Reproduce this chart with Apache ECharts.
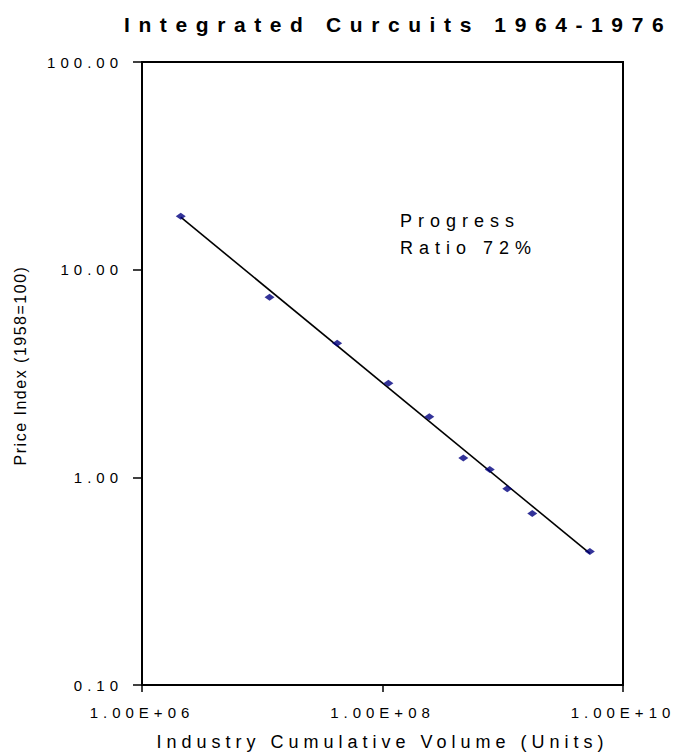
<!DOCTYPE html>
<html>
<head>
<meta charset="utf-8">
<script src="https://cdn.jsdelivr.net/npm/echarts@6/dist/echarts.min.js"></script>
<style>
  html, body { margin: 0; padding: 0; background: #fff; }
  #chart { width: 692px; height: 756px; }
  text[style*="lsTitle"] { letter-spacing: 8.6px; }
  text[style*="lsTick"] { letter-spacing: 5px; }
  text[style*="lsXName"] { letter-spacing: 5px; }
  text[style*="lsYName"] { letter-spacing: 1.5px; }
  text[style*="lsNote"] { letter-spacing: 6px; }
</style>
</head>
<body>
<div id="chart"></div>
<script>
// Data
var volume = [2.1e6, 1.15e7, 4.2e7, 1.12e8, 2.45e8, 4.7e8, 7.8e8, 1.09e9, 1.76e9, 5.3e9];
var priceIndex = [18.1, 7.36, 4.42, 2.84, 1.96, 1.24, 1.09, 0.88, 0.67, 0.44];
// Fitted progress line (72% progress ratio) end points
var trendVolume = [2.1e6, 5.3e9];
var trendPrice = [17.9, 0.43];
// Tick labels
var xTickValues = [1e6, 1e8, 1e10];
var xTickLabels = ['1.00E+06', '1.00E+08', '1.00E+10'];
var yTickValues = [0.1, 1, 10, 100];
var yTickLabels = ['0.10', '1.00', '10.00', '100.00'];

var titleText = 'Integrated Curcuits 1964-1976';
var xName = 'Industry Cumulative Volume (Units)';
var yName = 'Price Index (1958=100)';
var noteText = 'Progress\nRatio 72%';

function pickLabel(values, labels, v) {
  var best = 0, bd = Infinity;
  for (var i = 0; i < values.length; i++) {
    var d = Math.abs(Math.log10(values[i]) - Math.log10(v));
    if (d < bd) { bd = d; best = i; }
  }
  return bd < 0.01 ? labels[best] : '';
}

var F = "'Liberation Sans', Arial, ";
var chart = echarts.init(document.getElementById('chart'), null, { renderer: 'svg' });
chart.setOption({
  animation: false,
  backgroundColor: '#fff',
  title: {
    text: titleText,
    left: 119,
    top: 9,
    textStyle: { fontFamily: F + 'lsTitle', fontSize: 21, fontWeight: 'bold', color: '#000' }
  },
  graphic: [{
    type: 'text',
    left: 400,
    top: 207,
    style: {
      text: noteText,
      fontFamily: F + 'lsNote',
      fontSize: 18,
      lineHeight: 27,
      fill: '#000'
    }
  }],
  grid: {
    left: 142, top: 62, width: 481, height: 623,
    containLabel: false,
    outerBoundsMode: 'none',
    show: true,
    borderColor: '#000',
    borderWidth: 2,
    backgroundColor: '#fff'
  },
  xAxis: {
    type: 'log',
    logBase: 100,
    min: xTickValues[0],
    max: xTickValues[xTickValues.length - 1],
    name: xName,
    nameLocation: 'middle',
    nameGap: 48,
    nameTextStyle: { fontFamily: F + 'lsXName', fontSize: 18, color: '#000' },
    axisLine: { show: true, lineStyle: { color: '#000', width: 2 } },
    axisTick: { show: true, inside: false, length: 7, lineStyle: { color: '#000', width: 1.5 } },
    axisLabel: {
      show: true,
      margin: 20,
      fontFamily: F + 'lsTick',
      fontSize: 15,
      color: '#000',
      showMinLabel: true,
      showMaxLabel: true,
      formatter: function (v) { return pickLabel(xTickValues, xTickLabels, v); }
    },
    splitLine: { show: false },
    minorTick: { show: false }
  },
  yAxis: {
    type: 'log',
    logBase: 10,
    min: yTickValues[0],
    max: yTickValues[yTickValues.length - 1],
    name: yName,
    nameLocation: 'middle',
    nameGap: 114,
    nameRotate: 90,
    nameTextStyle: { fontFamily: F + 'lsYName', fontSize: 16, color: '#000', padding: [0, 0, 0, 16] },
    axisLine: { show: true, lineStyle: { color: '#000', width: 2 } },
    axisTick: { show: true, inside: false, length: 9, lineStyle: { color: '#000', width: 1.5 } },
    axisLabel: {
      show: true,
      margin: 19,
      fontFamily: F + 'lsTick',
      fontSize: 15,
      color: '#000',
      showMinLabel: true,
      showMaxLabel: true,
      formatter: function (v) { return pickLabel(yTickValues, yTickLabels, v); }
    },
    splitLine: { show: false },
    minorTick: { show: false }
  },
  series: [
    {
      type: 'line',
      data: trendVolume.map(function (x, i) { return [x, trendPrice[i]]; }),
      showSymbol: false,
      symbol: 'none',
      lineStyle: { color: '#000', width: 1.6 },
      z: 2,
      silent: true
    },
    {
      type: 'scatter',
      data: volume.map(function (x, i) { return [x, priceIndex[i]]; }),
      symbol: 'diamond',
      symbolSize: [10, 7],
      itemStyle: { color: '#000080' },
      z: 3
    }
  ]
});
</script>
</body>
</html>
